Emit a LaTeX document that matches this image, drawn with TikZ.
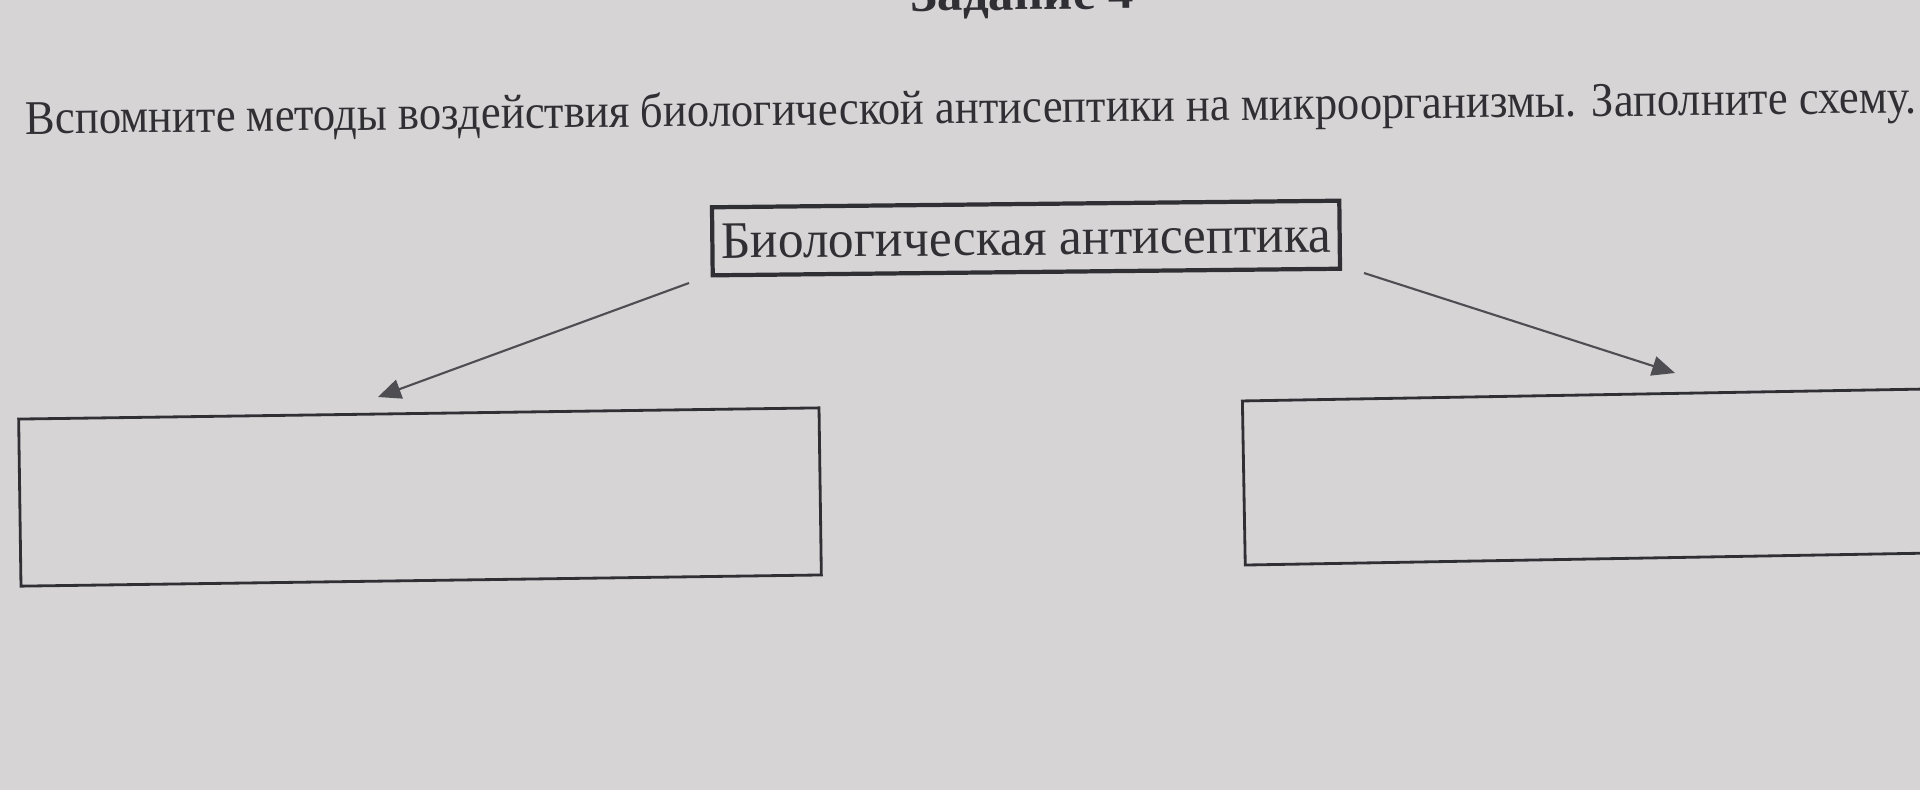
\documentclass[tikz,border=0pt]{standalone}
\usepackage{fontspec}
\setmainfont{Liberation Serif}
\usetikzlibrary{arrows.meta}
\definecolor{paper}{RGB}{215,212,214}
\definecolor{ink}{RGB}{48,48,52}
\definecolor{arrowink}{RGB}{78,78,82}
\begin{document}
\begin{tikzpicture}[x=0.01cm,y=-0.01cm,
  blank/.style={draw=ink, line width=0.8pt, inner sep=0pt, minimum width=8cm},
  headbox/.style={draw=ink, line width=1.2pt, inner sep=0pt, minimum width=6.27cm, minimum height=0.68cm, text=ink},
  conn/.style={draw=arrowink, line width=0.6pt, -{Triangle[length=6.5pt,width=5.6pt]}},
  txt/.style={text=ink, inner sep=0pt}]
\useasboundingbox (0,0) rectangle (1920,790);
\fill[paper] (0,0) rectangle (1920,790);
% title (mostly cut off at the top)
\node[txt, anchor=base west, rotate=0.6, font=\fontsize{14}{17}\selectfont\bfseries] (title) at (910,11) {\resizebox{2.23cm}{\height}{Задание 4}};
% instruction
\node[txt, anchor=base west, rotate=0.64, font=\fontsize{13.75}{16}\selectfont] (task) at (25,134) {\resizebox{18.9cm}{\height}{Вспомните методы воздействия биологической антисептики на микроорганизмы. Заполните схему.}};
% top box
\node[headbox, rotate=0.6, font=\fontsize{15}{18}\selectfont] (top) at (1026,238) {\resizebox{6.1cm}{\height}{Биологическая антисептика}};
% empty boxes
\node[blank, minimum height=1.67cm, rotate=0.8] (left) at (420,497) {};
\node[blank, minimum height=1.64cm, rotate=1] (right) at (1644,476) {};
% arrow ends
\coordinate (ls) at (689,283);
\coordinate (le) at (378,397);
\coordinate (rs) at (1364,273);
\coordinate (re) at (1675,373);
\draw[conn] (ls) -- (le);
\draw[conn] (rs) -- (re);
\end{tikzpicture}
\end{document}
